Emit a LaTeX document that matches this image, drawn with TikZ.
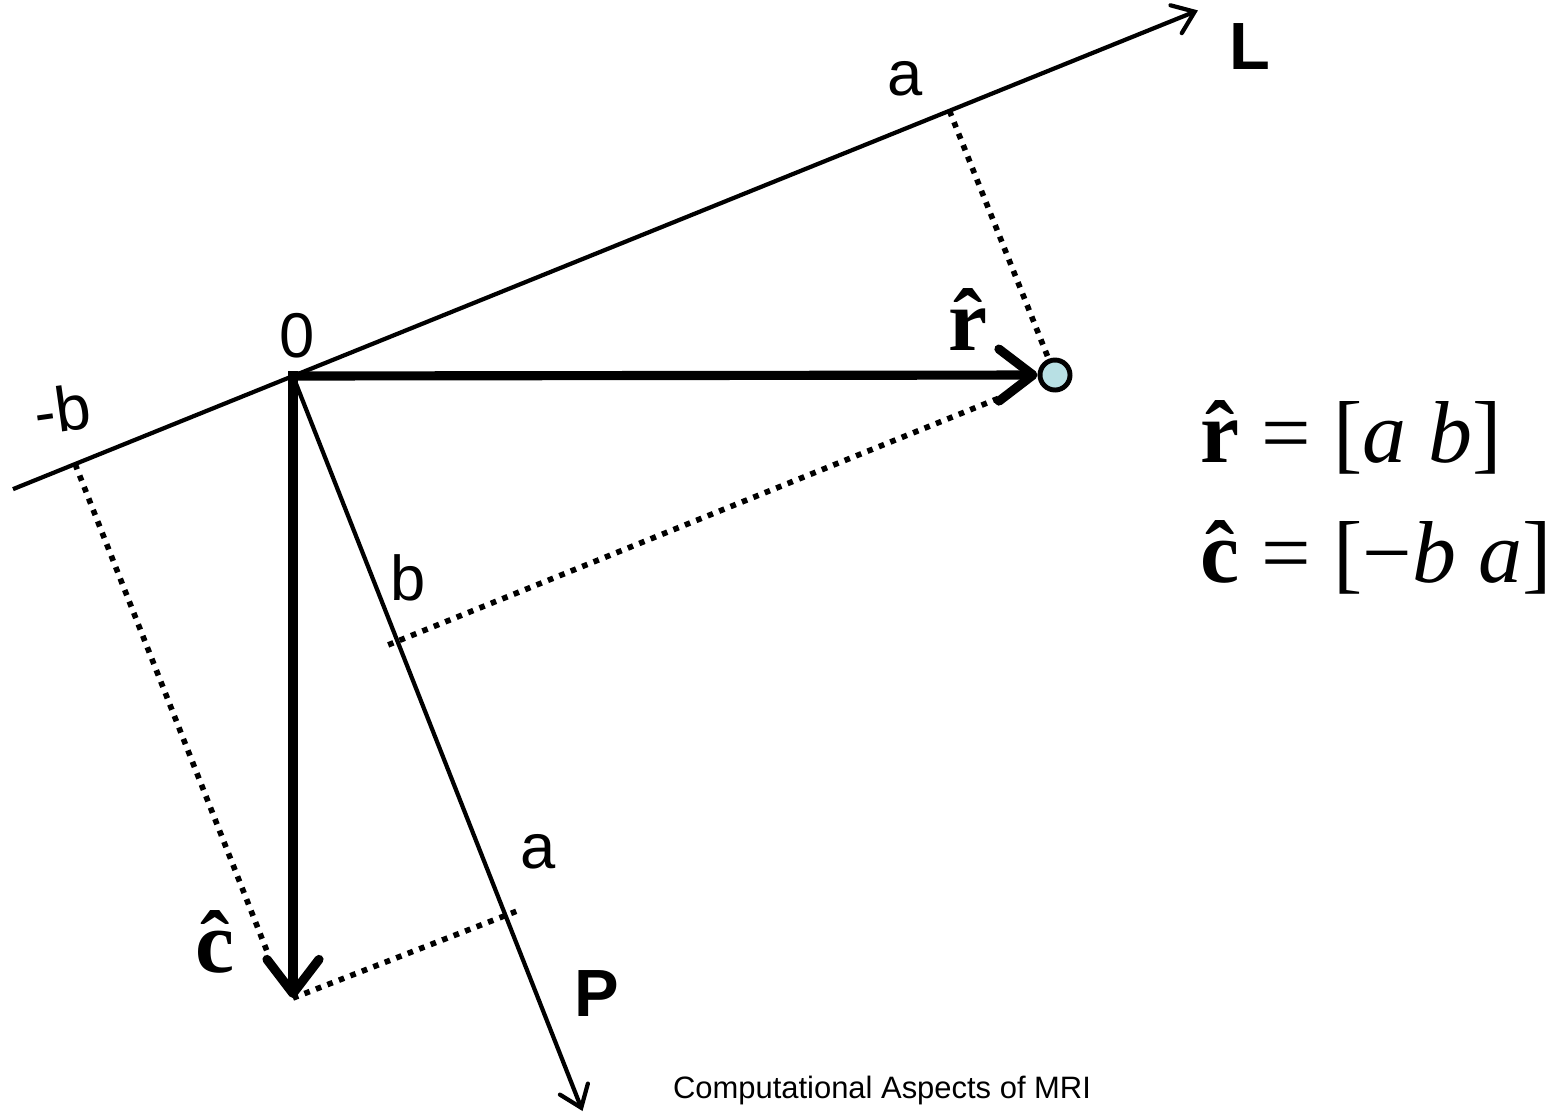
\documentclass[tikz,border=0pt]{standalone}
\usepackage{fontspec}
\setmainfont{Liberation Sans}
\newfontfamily\tnr{Liberation Serif}
\usetikzlibrary{arrows.meta,calc}
\definecolor{tipblue}{RGB}{184,224,228}
\newcommand{\vhat}[1]{{\bfseries\ooalign{#1\cr\hidewidth\char"02C6\hidewidth\cr}}}
\tikzset{
  axisline/.style={line width=1.2pt,-{Straight Barb[length=0.2cm,width=0.3cm,line cap=round]}},
  vecline/.style={line width=2.6pt,-{Straight Barb[length=0.34cm,width=0.52cm,line cap=round,line join=round]}},
  projline/.style={line width=1.6pt,dash pattern=on 1.6pt off 1.9pt},
  ticklbl/.style={font=\fontsize{18}{20}\selectfont},
  axislbl/.style={font=\fontsize{19}{21}\selectfont\bfseries},
  veclbl/.style={font=\fontsize{25}{28}\selectfont\tnr},
}

\begin{document}
\begin{tikzpicture}[x=0.01cm,y=-0.01cm]
    \useasboundingbox (0,0) rectangle (1558,1114);
    \def\la{-22}\def\pa{68.5}
    \coordinate (O) at (293,376);
    \coordinate (Ltail) at ($(O)+(180+\la:302)$);
    \coordinate (Lhead) at ($(O)+(\la:976)$);
    \coordinate (Phead) at ($(O)+(\pa:790)$);
    \coordinate (La) at ($(O)+(\la:708)$);     % a on L
    \coordinate (Lb) at ($(O)+(180+\la:235)$); % -b on L
    \coordinate (Pb) at ($(O)+(\pa:285)$);     % b on P
    \coordinate (Pa) at ($(O)+(\pa:580)$);     % a on P
    \coordinate (C) at (293,998);
    \node[circle,draw,line width=1.4pt,fill=tipblue,minimum size=0.3cm,inner sep=0pt] (R) at (1055,375) {};
    % projections
    \draw[projline] (La) -- (R);
    \draw[projline] ($(Pb)+(180+\la:10)$) -- ($(Pb)+(\la:656)$);
    \draw[projline] (Lb) -- ($(Lb)+(\pa:528)$);
    \draw[projline] (C) -- ($(Pa)+(\la:12)$);
    % axes
    \draw[axisline] (Ltail) -- (Lhead);
    \draw[axisline] (O) -- (Phead);
    % unit vectors
    \draw[vecline] ([xshift=-1.3pt]O) -- (R.west);
    \draw[vecline] ([yshift=1.3pt]O) -- (C);
    \node[ticklbl] (l0) at (297,336) {0};
    \node[ticklbl] (la) at (905,79) {a};
    \node[ticklbl,rotate=8] (lb) at (62,409) {-b};
    \node[ticklbl] (pb) at (408,578) {b};
    \node[ticklbl] (pa) at (538,852) {a};
    \node[axislbl] (lL) at (1250,47) {L};
    \node[axislbl] (lP) at (597,993) {P};
    \node[veclbl,anchor=base] (rhat) at (968,350) {\vhat{r}};
    \node[veclbl,anchor=base] (chat) at (215,972) {\vhat{c}};
    \node[veclbl,anchor=base west,inner sep=0pt] (req) at (1200,462) {\vhat{r} = [\textit{a} \textit{b}]};
    \node[veclbl,anchor=base west,inner sep=0pt] (ceq) at (1200,582) {\vhat{c} = [−\textit{b} \textit{a}]};
    \node[font=\fontsize{8.8}{10}\selectfont] (foot) at (882,1090) {Computational Aspects of MRI};
\end{tikzpicture}
\end{document}
